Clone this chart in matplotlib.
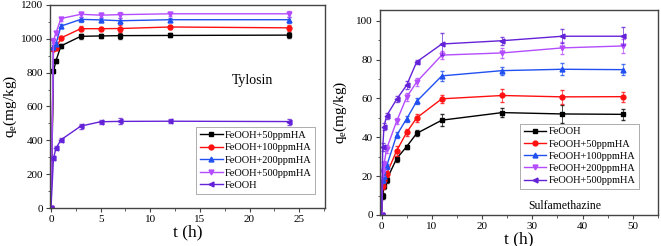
import numpy as np
import matplotlib
matplotlib.use('Agg')
import matplotlib.pyplot as plt
from matplotlib.ticker import MultipleLocator

plt.rcParams['font.family'] = ['Liberation Serif', 'DejaVu Serif']
plt.rcParams['mathtext.fontset'] = 'custom'
plt.rcParams['mathtext.rm'] = 'Liberation Serif'
plt.rcParams['mathtext.it'] = 'Liberation Serif'

# Tylosin (left panel)
t_ty = [0, 0.25, 0.5, 1, 3, 5, 7, 12, 24]
ty_50 = [0, 808, 870, 958, 1015, 1017, 1019, 1020, 1022]
ty_100 = [0, 940, 945, 1005, 1060, 1060, 1061, 1070, 1065]
ty_200 = [0, 950, 970, 1075, 1115, 1112, 1107, 1113, 1113]
ty_500 = [0, 990, 1035, 1120, 1145, 1140, 1143, 1148, 1148]
ty_fe = [0, 295, 352, 403, 484, 510, 512, 513, 511]
ty_err = [0, 12, 12, 12, 15, 12, 18, 12, 18]
ty_labels = ['FeOOH+50ppmHA', 'FeOOH+100ppmHA', 'FeOOH+200ppmHA', 'FeOOH+500ppmHA', 'FeOOH']

# Sulfamethazine (right panel)
t_sm = [0, 0.25, 0.5, 1, 3, 5, 7, 12, 24, 36, 48]
sm_fe = [0, 9.8, 15, 18, 29, 35.2, 42, 48.8, 52.7, 52, 51.8]
sm_50 = [0, 15, 18, 21, 33, 42.5, 50, 59.8, 61.5, 60.8, 60.9]
sm_100 = [0, 18, 20, 25, 41, 49.5, 58.5, 71.6, 74.3, 75, 74.8]
sm_200 = [0, 22, 26, 34, 48.2, 60.6, 68.5, 82.3, 83.4, 86, 87]
sm_500 = [0, 35, 45.5, 51, 59.5, 66.8, 78.8, 88, 89.7, 92, 92]
sm_err_fe = [0, 1.5, 1.5, 1.5, 1.5, 1.0, 1.5, 3.0, 2.5, 4.5, 3.0]
sm_err_50 = [0, 1.5, 1.5, 1.5, 2.5, 2.0, 2.0, 2.0, 3.5, 3.5, 2.5]
sm_err_100 = [0, 1.5, 1.5, 1.5, 1.5, 1.5, 1.5, 2.5, 2.0, 3.0, 3.0]
sm_err_200 = [0, 2.0, 2.0, 2.0, 1.5, 2.0, 2.0, 2.0, 2.5, 3.0, 3.5]
sm_err_500 = [0, 2.0, 2.0, 1.5, 1.5, 2.0, 1.0, 5.5, 2.0, 3.5, 4.5]
sm_labels = ['FeOOH', 'FeOOH+50ppmHA', 'FeOOH+100ppmHA', 'FeOOH+200ppmHA', 'FeOOH+500ppmHA']

colors = ['black', '#ff1010', '#2050f0', '#b44cff', '#6422d8']
markers = ['s', 'o', '^', 'v', '<']

fig = plt.figure(figsize=(6.61, 2.46), dpi=100)
ax1 = fig.add_axes([50/661, 38/246, 275/661, 203/246])
ax2 = fig.add_axes([380/661, 31/246, 278/661, 205/246])

ty_series = [ty_50, ty_100, ty_200, ty_500, ty_fe]
for i, ys in enumerate(ty_series):
    ax1.errorbar(t_ty, ys, yerr=ty_err, fmt='none', elinewidth=0.6, capsize=1.5,
                 ecolor=colors[i], alpha=0.8)
    ax1.plot(t_ty, ys, color=colors[i], marker=markers[i], ms=3.5, lw=1.0, label=ty_labels[i])

sm_series = [sm_fe, sm_50, sm_100, sm_200, sm_500]
sm_errs = [sm_err_fe, sm_err_50, sm_err_100, sm_err_200, sm_err_500]
for i, ys in enumerate(sm_series):
    ax2.errorbar(t_sm, ys, yerr=sm_errs[i], fmt='none', elinewidth=0.6, capsize=1.5,
                 ecolor=colors[i], alpha=0.8)
    ax2.plot(t_sm, ys, color=colors[i], marker=markers[i], ms=3.5, lw=1.0, label=sm_labels[i])

ax1.set_xlim(-0.1, 27.6)
ax1.set_ylim(0, 1200)
ax1.xaxis.set_major_locator(MultipleLocator(5))
ax1.xaxis.set_minor_locator(MultipleLocator(2.5))
ax1.yaxis.set_major_locator(MultipleLocator(200))
ax1.yaxis.set_minor_locator(MultipleLocator(100))

ax2.set_xlim(-0.3, 55)
ax2.set_ylim(0, 105.5)
ax2.xaxis.set_major_locator(MultipleLocator(10))
ax2.xaxis.set_minor_locator(MultipleLocator(5))
ax2.yaxis.set_major_locator(MultipleLocator(20))
ax2.yaxis.set_minor_locator(MultipleLocator(10))

for ax in (ax1, ax2):
    for sp in ax.spines.values():
        sp.set_color('#444444')
        sp.set_linewidth(1.0)
    ax.tick_params(which='major', length=3, width=0.8, labelsize=8, color='#444444', pad=2)
    ax.tick_params(which='minor', length=1.8, width=0.6, color='#444444')
    ax.set_xlabel('t (h)', fontsize=12.5, labelpad=0)
    ax.set_ylabel(r'q$_{\rm e}$(mg/kg)', fontsize=11)

ax1.yaxis.set_label_coords(-0.112, 0.5)
ax2.yaxis.set_label_coords(-0.112, 0.5)

leg1 = ax1.legend(loc='lower right', bbox_to_anchor=(0.965, 0.07), fontsize=7.5,
                  frameon=True, fancybox=False, edgecolor='#888888', handlelength=2.2,
                  handletextpad=0.2, borderpad=0.35, labelspacing=0.32, borderaxespad=0)
leg1.get_frame().set_linewidth(0.6)
leg2 = ax2.legend(loc='lower right', bbox_to_anchor=(0.932, 0.127), fontsize=7.5,
                  frameon=True, fancybox=False, edgecolor='#888888', handlelength=2.2,
                  handletextpad=0.2, borderpad=0.35, labelspacing=0.28, borderaxespad=0)
leg2.get_frame().set_linewidth(0.6)

ax1.text(0.735, 0.63, 'Tylosin', transform=ax1.transAxes, fontsize=10, ha='center', va='center')
ax2.text(0.666, 0.045, 'Sulfamethazine', transform=ax2.transAxes, fontsize=8.5, ha='center', va='center')

fig.savefig('out.png', dpi=100)
